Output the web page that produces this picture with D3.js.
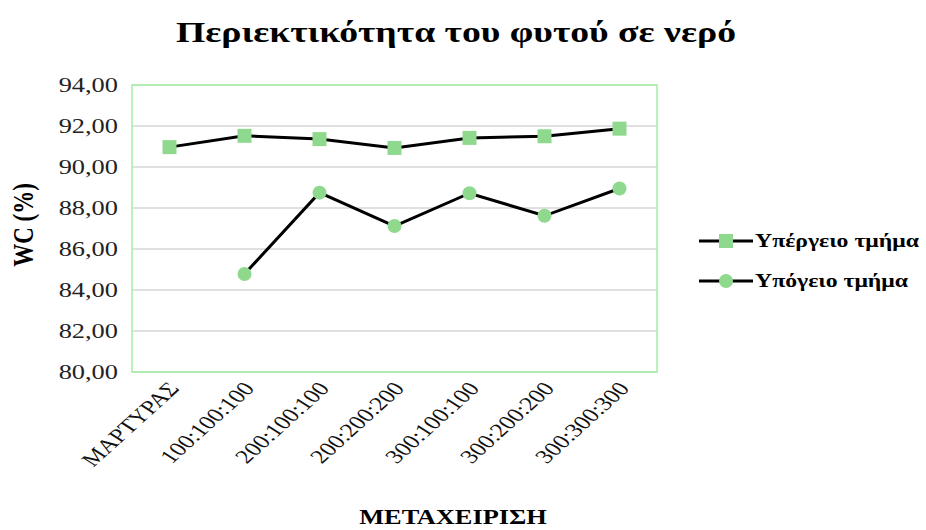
<!DOCTYPE html>
<html>
<head>
<meta charset="utf-8">
<script src="https://cdn.jsdelivr.net/npm/d3@7"></script>
<style>
  body { margin: 0; background: #fff; }
  text { font-family: "Liberation Serif", "Times New Roman", serif; }
</style>
</head>
<body>
<div id="chart"></div>
<script>
// chart data
var categories = ["ΜΑΡΤΥΡΑΣ", "100:100:100", "200:100:100", "200:200:200", "300:100:100", "300:200:200", "300:300:300"];
var upperValues = [90.97, 91.52, 91.36, 90.93, 91.42, 91.50, 91.87];
var lowerValues = [null, 84.78, 88.75, 87.12, 88.72, 87.62, 88.95];
var seriesNames = ["Υπέργειο τμήμα", "Υπόγειο τμήμα"];
var yTicks = [80, 82, 84, 86, 88, 90, 92, 94];

var width = 926, height = 530;
var plot = { left: 132, right: 657, top: 85, bottom: 372 };
var markerColor = "#8fd98f";
var sx = 1.32; // the original picture is stretched sideways

var svg = d3.select("#chart").append("svg")
    .attr("width", width)
    .attr("height", height);

var x = d3.scaleBand().domain(categories).range([plot.left, plot.right]);
var y = d3.scaleLinear().domain([80, 94]).range([plot.bottom, plot.top]);

function stretched(tx, ty) {
    return "translate(" + tx + "," + ty + ") scale(" + sx + ",1)";
}

// gridlines
svg.append("g")
    .selectAll("line")
    .data(yTicks)
    .enter().append("line")
    .attr("x1", plot.left).attr("x2", plot.right)
    .attr("y1", function(d) { return y(d); })
    .attr("y2", function(d) { return y(d); })
    .attr("stroke", "#d6d6d6")
    .attr("stroke-width", 1.5);

// plot border
svg.append("rect")
    .attr("x", plot.left).attr("y", plot.top)
    .attr("width", plot.right - plot.left)
    .attr("height", plot.bottom - plot.top)
    .attr("fill", "none")
    .attr("stroke", "#a3f0a3")
    .attr("stroke-width", 1.5);

// y axis
var yAxis = svg.append("g")
    .attr("transform", "translate(" + plot.left + ",0)")
    .call(d3.axisLeft(y).tickValues(yTicks).tickSize(0)
        .tickFormat(function(d) { return d3.format(".2f")(d).replace(".", ","); }));
yAxis.select(".domain").remove();
yAxis.selectAll("text")
    .attr("x", 0)
    .attr("transform", stretched(-14, 0))
    .attr("font-size", 20)
    .attr("fill", "#222")
    .style("font-family", "Liberation Serif, serif");

// x axis labels
var xAxis = svg.append("g")
    .attr("transform", "translate(0," + plot.bottom + ")")
    .call(d3.axisBottom(x).tickSize(0).tickPadding(0));
xAxis.select(".domain").remove();
xAxis.selectAll("text")
    .attr("font-size", 19.5)
    .attr("fill", "#111")
    .style("font-family", "Liberation Serif, serif")
    .attr("text-anchor", "end")
    .attr("y", 0)
    .attr("dy", 0)
    .attr("transform", stretched(11, 17) + " rotate(-50)");

// lines and markers
var line = d3.line()
    .defined(function(d) { return d.v != null; })
    .x(function(d) { return x(d.c) + x.bandwidth() / 2; })
    .y(function(d) { return y(d.v); });

function toPoints(vals) {
    return categories.map(function(c, i) { return { c: c, v: vals[i] }; });
}

var upper = toPoints(upperValues);
var lower = toPoints(lowerValues);

[upper, lower].forEach(function(pts) {
    svg.append("path")
        .datum(pts)
        .attr("d", line)
        .attr("fill", "none")
        .attr("stroke", "#000")
        .attr("stroke-width", 3);
});

svg.append("g").selectAll("rect")
    .data(upper)
    .enter().append("rect")
    .attr("x", function(d) { return x(d.c) + x.bandwidth() / 2 - 7; })
    .attr("y", function(d) { return y(d.v) - 7; })
    .attr("width", 14).attr("height", 14)
    .attr("fill", markerColor);

svg.append("g").selectAll("circle")
    .data(lower.filter(function(d) { return d.v != null; }))
    .enter().append("circle")
    .attr("cx", function(d) { return x(d.c) + x.bandwidth() / 2; })
    .attr("cy", function(d) { return y(d.v); })
    .attr("r", 7)
    .attr("fill", markerColor);

// title
svg.append("text")
    .attr("transform", "translate(456,42) scale(1.3,1)")
    .attr("text-anchor", "middle")
    .attr("font-size", 29)
    .attr("font-weight", "bold")
    .text("Περιεκτικότητα του φυτού σε νερό");

// axis titles
svg.append("text")
    .attr("transform", stretched(33, 225) + " rotate(-90)")
    .attr("text-anchor", "middle")
    .attr("font-size", 23)
    .attr("font-weight", "bold")
    .text("WC (%)");

svg.append("text")
    .attr("transform", stretched(453, 524))
    .attr("text-anchor", "middle")
    .attr("font-size", 20)
    .attr("font-weight", "bold")
    .text("ΜΕΤΑΧΕΙΡΙΣΗ");

// legend
var legend = svg.append("g").selectAll("g")
    .data(seriesNames)
    .enter().append("g")
    .attr("transform", function(d, i) { return "translate(699," + (241 + i * 40) + ")"; });
legend.append("line")
    .attr("x1", 0).attr("x2", 54)
    .attr("stroke", "#000").attr("stroke-width", 3);
legend.filter(function(d, i) { return i === 0; }).append("rect")
    .attr("x", 20).attr("y", -7).attr("width", 14).attr("height", 14)
    .attr("fill", markerColor);
legend.filter(function(d, i) { return i === 1; }).append("circle")
    .attr("cx", 27).attr("r", 7)
    .attr("fill", markerColor);
legend.append("text")
    .attr("transform", stretched(56, 6))
    .attr("font-size", 18)
    .attr("font-weight", "bold")
    .text(function(d) { return d; });
</script>
</body>
</html>
